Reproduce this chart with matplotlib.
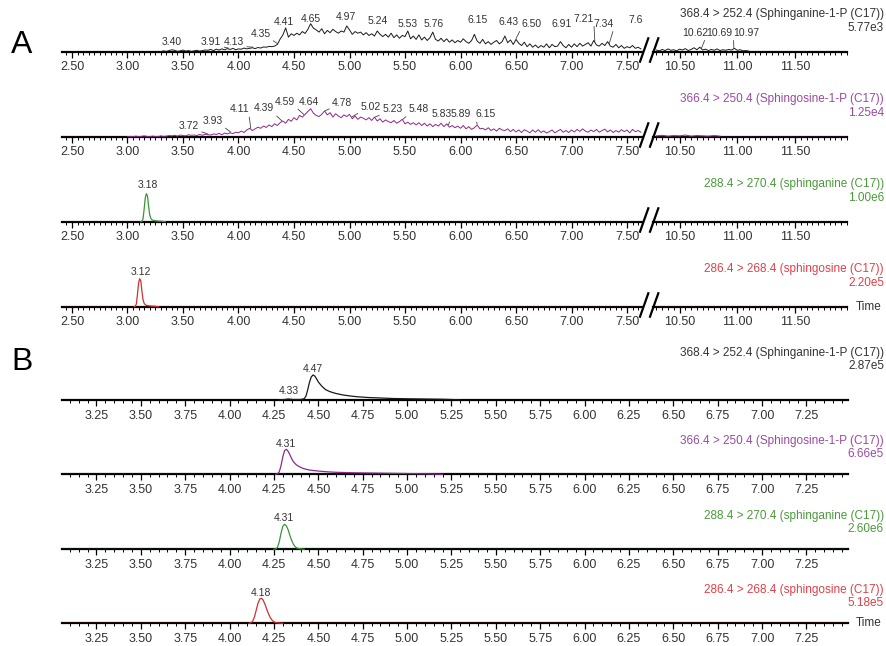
import numpy as np
import matplotlib.pyplot as plt
from matplotlib.lines import Line2D
from matplotlib.ticker import MultipleLocator, FormatStrFormatter

W, H = 886, 646
plt.rcParams['font.family'] = ['Liberation Sans', 'DejaVu Sans']

# ---------------- data ----------------
SCAN = 0.025  # min between scans for the noisy traces

# channel names and full-scale intensities
channels = ['368.4 > 252.4 (Sphinganine-1-P (C17))',
            '366.4 > 250.4 (Sphingosine-1-P (C17))',
            '288.4 > 270.4 (sphinganine (C17))',
            '286.4 > 268.4 (sphingosine (C17))']
a_scales = ['5.77e3', '1.25e4', '1.00e6', '2.20e5']
b_scales = ['2.87e5', '6.66e5', '2.60e6', '5.18e5']

# A1: Sphinganine-1-P, % of full scale, noisy
a1_start = 3.30
a1_vals = [0, 3, 1, 4, 7, 5, 1, 3, 6,
           2, 4, 1, 3, 5, 2, 4, 6,
           5, 8, 4, 9, 6, 10, 7, 11,
           8, 12, 7, 10, 9, 13, 10, 12,
           14, 11, 15, 13, 17, 16, 19, 18,
           20, 26, 45, 60, 85, 52, 64, 58,
           66, 60, 72, 65, 80, 100, 84, 78,
           70, 82, 64, 76, 68, 80, 72, 66,
           74, 70, 92, 78, 62, 72, 66, 70,
           60, 68, 58, 64, 56, 74, 62, 54,
           62, 52, 66, 50, 60, 48, 58, 54,
           74, 46, 56, 44, 60, 42, 52, 40,
           50, 70, 44, 38, 48, 36, 46, 34,
           42, 32, 40, 34, 46, 36, 30, 40,
           62, 38, 30, 44, 28, 36, 26, 34,
           40, 28, 36, 56, 32, 42, 26, 44,
           30, 22, 34, 18, 28, 16, 24, 14,
           22, 16, 28, 14, 26, 18, 20, 36,
           22, 14, 26, 16, 28, 18, 30, 20,
           26, 32, 20, 40, 24, 20, 30, 22,
           36, 20, 16, 26, 14, 22, 12, 18,
           14, 22, 12, 16, 10]
a1r_start = 10.30
a1r_vals = [6, 3, 8, 4, 10, 5, 7, 3,
            9, 6, 11, 4, 8, 14, 7, 16,
            6, 9, 4, 8, 5, 10, 4, 7,
            5, 8, 6, 12, 5, 7, 3, 4, 2]

# A2: Sphingosine-1-P, % of full scale, noisy
a2_start = 3.00
a2_vals = [0, 1, 0, 2, 0, 1, 3, 1,
           0, 2, 1, 0, 3, 1, 2, 4,
           3, 5, 2, 6, 4, 3, 7, 5,
           6, 4, 8, 5, 9, 7, 6, 10,
           8, 12, 7, 13, 10, 14, 11, 16,
           14, 20, 15, 24, 30, 22, 28, 34,
           30, 38, 33, 42, 36, 46, 40, 50,
           56, 48, 62, 55, 68, 60, 76, 70,
           80, 90, 100, 84, 76, 72, 80, 92,
           78, 86, 70, 82, 74, 68, 78, 72,
           80, 64, 74, 62, 70, 66, 60, 68,
           58, 70, 56, 64, 52, 60, 54, 50,
           58, 48, 54, 62, 46, 52, 44, 50,
           42, 50, 40, 48, 38, 46, 36, 44,
           38, 48, 36, 46, 34, 40, 32, 38,
           30, 40, 28, 36, 26, 32, 42, 28,
           30, 24, 32, 22, 28, 20, 30, 24,
           22, 28, 18, 26, 17, 24, 15, 25,
           20, 14, 24, 16, 25, 15, 21, 13,
           18, 24, 14, 20, 26, 16, 22, 15,
           24, 17, 26, 19, 28, 20, 16, 24,
           18, 26, 16, 22, 27, 17, 24, 15,
           22, 16, 25, 18, 24, 14, 26, 18,
           22, 16]
a2r_start = 10.30
a2r_vals = [3, 5, 2, 4, 3, 6, 2, 4, 3, 2, 4, 2]
a2r_step = 0.05

# A3 / A4 peaks
a3_t = [3.12, 3.13, 3.14, 3.15, 3.16, 3.17, 3.18, 3.19, 3.20, 3.21, 3.22, 3.23,
        3.24, 3.26, 3.28, 3.30, 3.32, 3.34]
a3_v = [0, 2, 10, 45, 85, 100, 92, 55, 25, 12, 7, 5, 4, 3, 2, 2, 1, 0]
a4_t = [3.06, 3.07, 3.08, 3.09, 3.10, 3.11, 3.12, 3.13, 3.14, 3.15, 3.16, 3.17,
        3.18, 3.20, 3.22, 3.24, 3.26, 3.28]
a4_v = [0, 2, 10, 45, 85, 100, 92, 55, 25, 12, 7, 5, 4, 3, 2, 2, 1, 0]

# B peaks
b1_t = [4.28, 4.30, 4.33, 4.36, 4.40, 4.42, 4.43, 4.44, 4.45, 4.46, 4.47, 4.48,
        4.49, 4.50, 4.52, 4.54, 4.56, 4.58, 4.60, 4.64, 4.68, 4.72, 4.78, 4.85,
        4.92, 5.00, 5.10, 5.20, 5.25, 5.30]
b1_v = [0, 1, 4, 2, 2, 5, 15, 40, 70, 92, 100, 96, 85, 72, 55, 42, 35, 30, 26,
        20, 16, 13, 10, 8, 6, 5, 4, 3, 2, 0]
b2_t = [4.26, 4.27, 4.28, 4.29, 4.30, 4.31, 4.32, 4.33, 4.34, 4.35, 4.36, 4.37,
        4.38, 4.40, 4.42, 4.45, 4.50, 4.55, 4.60, 4.70, 4.80, 4.90, 5.00, 5.10, 5.20]
b2_v = [0, 2, 10, 35, 70, 95, 100, 92, 78, 62, 50, 42, 36, 28, 22, 17, 13, 10,
        8, 6, 5, 4, 3, 2, 0]
b3_t = [4.25, 4.26, 4.27, 4.28, 4.29, 4.30, 4.31, 4.32, 4.33, 4.34, 4.35, 4.36,
        4.37, 4.38, 4.40, 4.42]
b3_v = [0, 1, 8, 30, 65, 92, 100, 94, 78, 55, 35, 20, 10, 5, 2, 0]
b4_t = [4.11, 4.12, 4.13, 4.14, 4.15, 4.16, 4.17, 4.18, 4.19, 4.20, 4.21, 4.22,
        4.23, 4.24, 4.25, 4.26, 4.28, 4.30]
b4_v = [0, 2, 8, 25, 52, 80, 97, 100, 92, 75, 55, 37, 22, 12, 6, 3, 1, 0]

# peak labels: retention time, text x (min), text height (% units)
a1_rt = [3.40, 3.91, 4.13, 4.35, 4.41, 4.65, 4.97, 5.24, 5.53, 5.76, 6.15, 6.43,
         6.50, 6.91, 7.21, 7.34, 7.61]
a1_lx = [3.40, 3.754, 3.958, 4.198, 4.41, 4.649, 4.97, 5.25, 5.525, 5.76, 6.156,
         6.435, 6.637, 6.907, 7.11, 7.29, 7.60]
a1_ly = [36, 36, 36, 64, 107, 118, 125, 111, 100, 100, 114, 107, 100, 100, 118,
         100, 114]
a1r_rt = [10.62, 10.69, 10.97]
a1r_lx = [10.636, 10.84, 11.08]
a1r_ly = [68, 68, 68]
a2_rt = [3.72, 3.93, 4.11, 4.39, 4.59, 4.64, 4.78, 5.02, 5.23, 5.48, 5.83, 5.89, 6.15]
a2_lx = [3.552, 3.766, 4.006, 4.228, 4.42, 4.633, 4.934, 5.19, 5.385, 5.624,
         5.835, 6.006, 6.23]
a2_ly = [38, 56, 98, 101, 125, 125, 122, 107, 98, 98, 80, 80, 80]
a3_rt, a3_lx, a3_ly = [3.18], [3.18], [130]
a4_rt, a4_lx, a4_ly = [3.12], [3.12], [125]
b1_rt, b1_lx, b1_ly = [4.33, 4.47], [4.335, 4.47], [36, 126]
b2_rt, b2_lx, b2_ly = [4.31], [4.318], [123]
b3_rt, b3_lx, b3_ly = [4.31], [4.306], [124]
b4_rt, b4_lx, b4_ly = [4.18], [4.175], [123]

# ---------------- styling / layout ----------------
trace_col = ['#1a1a1a', '#8a2a8a', '#3a943a', '#d03030']
text_col = ['#333333', '#9a4aa0', '#4a9a3a', '#e04048']

A_LEFT = (62, 642)
A_RIGHT = (653, 847)
A_XL = (2.41, 7.635)
A_XR = (10.27, 11.95)
A_BASE = [51.7, 136.7, 221.7, 306.7]
A_H = 46
B_X = (62, 848)
B_XL = (3.056, 7.484)
B_BASE = [400, 474.3, 549.3, 623.3]
B_H = 42
YMAX_A = 100 * A_H / 28
YMAX_B = 100 * B_H / 25

fig = plt.figure(figsize=(W / 100, H / 100), dpi=100)


def px_axes(x0, x1, base, h):
    return fig.add_axes([x0 / W, (H - base) / H, (x1 - x0) / W, h / H])


def style(ax, xlim, ymax, major):
    ax.set_xlim(*xlim)
    ax.set_ylim(0, ymax)
    for s in ('left', 'right', 'top'):
        ax.spines[s].set_visible(False)
    ax.spines['bottom'].set_linewidth(1.6)
    ax.set_yticks([])
    ax.patch.set_visible(False)
    ax.xaxis.set_major_locator(MultipleLocator(major))
    ax.xaxis.set_minor_locator(MultipleLocator(0.05))
    ax.xaxis.set_major_formatter(FormatStrFormatter('%.2f'))
    ax.tick_params(axis='x', which='major', length=4.5, width=0.9, pad=2.5,
                   labelsize=9, labelcolor='#333333')
    ax.tick_params(axis='x', which='minor', length=2.5, width=0.7)


def draw_trace(ax, t, v, color, lw):
    ax.axhline(0, color=color, lw=0.9, zorder=3)
    ax.plot(t, v, color=color, lw=lw, zorder=4, clip_on=False)


def peak_labels(ax, t, v, rts, lxs, lys, clip=False):
    for rt, lx, ly in zip(rts, lxs, lys):
        txt = f'{rt:.2f}'
        if abs(lx - rt) > 0.03:
            y_pt = np.interp(rt, t, v) + 3
            rel = (1, 0) if lx < rt else (0, 0)
            ax.annotate(txt, xy=(rt, y_pt), xytext=(lx, ly), fontsize=7.5,
                        color='#333333', ha='center', va='center',
                        annotation_clip=False,
                        arrowprops=dict(arrowstyle='-', lw=0.6, color='#444444',
                                        shrinkA=0, shrinkB=0, relpos=rel))
        else:
            ax.text(lx, ly, txt, fontsize=7.5, color='#333333', ha='center',
                    va='center', clip_on=clip)


def break_marks(base):
    x1 = A_LEFT[1]
    for dx in (-2, 8):
        xs = [(x1 + dx) / W, (x1 + dx + 8.3) / W]
        ys = [1 - (base + 10) / H, 1 - (base - 13.4) / H]
        fig.add_artist(Line2D(xs, ys, color='black', lw=1.6,
                              transform=fig.transFigure))


def channel_text(i, base, scale, dt, ds):
    fig.text(884 / W, 1 - (base - dt) / H, channels[i], ha='right',
             va='center', fontsize=8.5, color=text_col[i])
    fig.text(884 / W, 1 - (base - ds) / H, scale, ha='right', va='center',
             fontsize=8.5, color=text_col[i])


# ---------------- panel A ----------------
a1_t = a1_start + SCAN * np.arange(len(a1_vals))
a1r_t = a1r_start + SCAN * np.arange(len(a1r_vals))
a2_t = a2_start + SCAN * np.arange(len(a2_vals))
a2r_t = a2r_start + a2r_step * np.arange(len(a2r_vals))

a_left = [(a1_t, a1_vals), (a2_t, a2_vals), (a3_t, a3_v), (a4_t, a4_v)]
a_right = [(a1r_t, a1r_vals), (a2r_t, a2r_vals), None, None]
a_lab = [(a1_rt, a1_lx, a1_ly), (a2_rt, a2_lx, a2_ly),
         (a3_rt, a3_lx, a3_ly), (a4_rt, a4_lx, a4_ly)]

for i, base in enumerate(A_BASE):
    axl = px_axes(A_LEFT[0], A_LEFT[1], base, A_H)
    style(axl, A_XL, YMAX_A, 0.5)
    t, v = a_left[i]
    lw = 0.7 if i < 2 else 0.9
    draw_trace(axl, t, v, trace_col[i], lw)
    rts, lxs, lys = a_lab[i]
    peak_labels(axl, t, v, rts[:-1] if i == 0 else rts, lxs, lys)
    if i == 0:
        # last label sits at the axis break and is cut there
        peak_labels(axl, t, v, rts[-1:], lxs[-1:], lys[-1:], clip=True)

    axr = px_axes(A_RIGHT[0], A_RIGHT[1], base, A_H)
    style(axr, A_XR, YMAX_A, 0.5)
    axr.axhline(0, color=trace_col[i], lw=0.9, zorder=3)
    if a_right[i] is not None:
        tr, vr = a_right[i]
        draw_trace(axr, tr, vr, trace_col[i], 0.7)
        if i == 0:
            peak_labels(axr, tr, vr, a1r_rt, a1r_lx, a1r_ly)

    break_marks(base)
    channel_text(i, base, a_scales[i], 38, 24)

fig.text(856 / W, 1 - A_BASE[3] / H, 'Time', ha='left', va='center',
         fontsize=8.5, color='#333333')
fig.text(22 / W, 1 - 45 / H, 'A', ha='center', va='center', fontsize=23)

# ---------------- panel B ----------------
b_data = [(b1_t, b1_v), (b2_t, b2_v), (b3_t, b3_v), (b4_t, b4_v)]
b_lab = [(b1_rt, b1_lx, b1_ly), (b2_rt, b2_lx, b2_ly),
         (b3_rt, b3_lx, b3_ly), (b4_rt, b4_lx, b4_ly)]

for i, base in enumerate(B_BASE):
    ax = px_axes(B_X[0], B_X[1], base, B_H)
    style(ax, B_XL, YMAX_B, 0.25)
    t, v = b_data[i]
    draw_trace(ax, t, v, trace_col[i], 0.9)
    rts, lxs, lys = b_lab[i]
    peak_labels(ax, t, v, rts, lxs, lys)
    if i == 0:
        channel_text(i, base, b_scales[i], 47, 34)
    else:
        channel_text(i, base, b_scales[i], 33, 20)

fig.text(856 / W, 1 - B_BASE[3] / H, 'Time', ha='left', va='center',
         fontsize=8.5, color='#333333')
fig.text(22 / W, 1 - 362 / H, 'B', ha='center', va='center', fontsize=23)

fig.savefig('out.png', dpi=100)
